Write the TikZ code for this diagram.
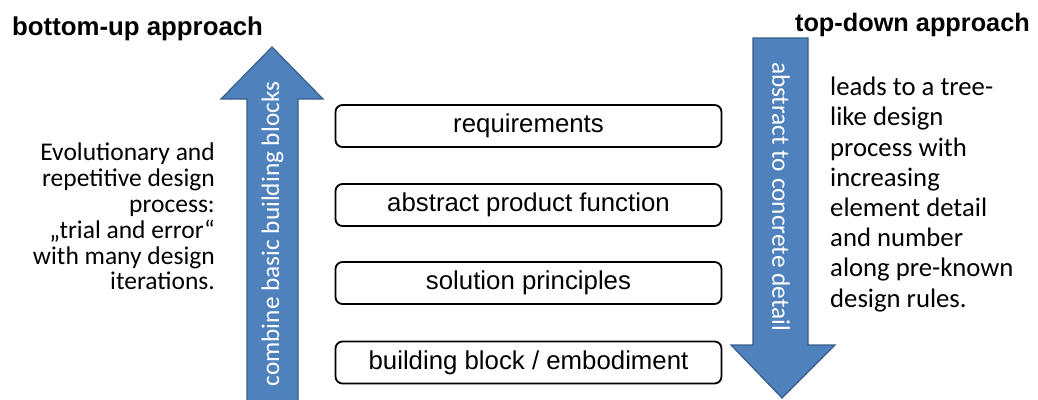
\documentclass[tikz,border=0pt]{standalone}
\usepackage{fontspec}
\setmainfont{Liberation Sans}
\newfontfamily\calib{Carlito}
\newfontfamily\arialf{Liberation Sans}
\definecolor{arrowfill}{RGB}{79,129,189}
\definecolor{arrowline}{RGB}{56,93,138}
\begin{document}
\begin{tikzpicture}[x=1pt,y=-1pt,
  stagebox/.style={draw=black,line width=1.8pt,rounded corners=7pt,minimum width=386pt,minimum height=42pt,inner sep=0pt,font=\arialf\fontsize{25.8}{28}\selectfont},
  bigarrow/.style={fill=arrowfill,draw=arrowline,line width=1.2pt,line join=miter},
  arrowtext/.style={text=white,inner sep=0pt,font=\calib\fontsize{25.3}{28}\selectfont},
  sidetext/.style={inner sep=0pt,font=\calib\fontsize{25.5}{25.8}\selectfont},
  titletext/.style={inner sep=0pt,font=\arialf\bfseries\fontsize{25.8}{28}\selectfont}]
\useasboundingbox (0,0) rectangle (1038,399);
\clip (0,0) rectangle (1038,399);
% arrows
\draw[bigarrow] (247,410) -- (247,99) -- (221,99) -- (272,47) -- (323,99) -- (298,99) -- (298,410) -- cycle;
\draw[bigarrow] (753,38) -- (808,38) -- (808,345) -- (835,345) -- (782,398) -- (731,345) -- (753,345) -- cycle;
\node[arrowtext,rotate=90] (upt) at (272.5,234) {combine basic building blocks};
\node[arrowtext,rotate=-90] (downt) at (781,196.5) {abstract to concrete detail};
% boxes
\node[stagebox] (req) at (528.5,126) {requirements};
\node[stagebox] (apf) at (528.5,205) {abstract product function};
\node[stagebox] (sol) at (528.5,283) {solution principles};
\node[stagebox] (bbe) at (528.5,362.5) {building block / embodiment};
% titles
\node[titletext,anchor=north west] (bu) at (12,16.5) {bottom-up approach};
\node[titletext,anchor=north east,font=\arialf\bfseries\fontsize{25.3}{28}\selectfont] (td) at (1030,12.5) {top-down approach};
% side texts
\node[sidetext,anchor=north east,align=right] (lt) at (215,143) {Evolutionary and\\repetitive design\\process:\\„trial and error“\\with many design\\iterations.};
\node[sidetext,anchor=north west,align=left,font=\calib\fontsize{26.7}{30.2}\selectfont] (rt) at (830,77) {leads to a tree-\\like design\\process with\\increasing\\element detail\\and number\\along pre-known\\design rules.};
\end{tikzpicture}
\end{document}
